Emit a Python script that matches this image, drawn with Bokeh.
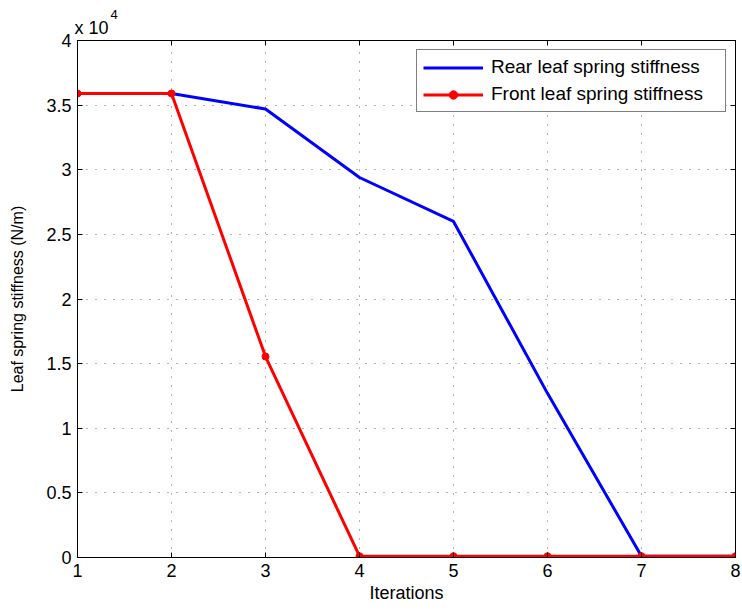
from bokeh.plotting import figure
from bokeh.models import FixedTicker, LinearAxis, Legend, LegendItem, Title, Range1d
from bokeh.embed import file_html
from bokeh.resources import INLINE

iterations = [1, 2, 3, 4, 5, 6, 7, 8]
rear_stiffness = [35900, 35900, 34700, 29400, 26000, 12700, 100, 100]
front_stiffness = [35900, 35900, 15550, 100, 100, 100, 100, 100]
x_ticks = [1, 2, 3, 4, 5, 6, 7, 8]
y_ticks = [0, 5000, 10000, 15000, 20000, 25000, 30000, 35000, 40000]
y_tick_labels = ["0", "0.5", "1", "1.5", "2", "2.5", "3", "3.5", "4"]

FONT = "Liberation Sans"
FS = "18px"

p = figure(width=742, height=612, output_backend="svg", toolbar_location=None,
           x_range=Range1d(1, 8), y_range=Range1d(0, 40000),
           min_border_left=77, min_border_right=7, min_border_top=40, min_border_bottom=55)
p.background_fill_color = "white"
p.border_fill_color = "white"
p.outline_line_color = "black"
p.outline_line_width = 1

for ax in (p.xaxis[0], p.yaxis[0]):
    ax.major_tick_in = 5
    ax.major_tick_out = 0
    ax.minor_tick_in = 0
    ax.minor_tick_out = 0
    ax.axis_line_color = "black"
    ax.major_tick_line_color = "black"
    ax.major_label_text_font = FONT
    ax.major_label_text_font_size = FS
    ax.major_label_text_color = "black"
    ax.axis_label_text_font = FONT
    ax.axis_label_text_font_size = FS
    ax.axis_label_text_font_style = "normal"
    ax.axis_label_text_color = "black"

p.yaxis[0].axis_label_text_font_size = "16px"
p.xaxis[0].ticker = FixedTicker(ticks=x_ticks)
p.yaxis[0].ticker = FixedTicker(ticks=y_ticks)
p.yaxis[0].major_label_overrides = {t: l for t, l in zip(y_ticks, y_tick_labels)}
p.xaxis[0].axis_label = "Iterations"
p.yaxis[0].axis_label = "Leaf spring stiffness (N/m)"
p.xaxis[0].major_label_standoff = 6
p.xaxis[0].axis_label_standoff = 3
p.yaxis[0].major_label_standoff = 6
p.yaxis[0].axis_label_standoff = 17

# top/right ticks (box style)
top = LinearAxis(ticker=FixedTicker(ticks=x_ticks), major_tick_in=5, major_tick_out=0,
                 minor_tick_in=0, minor_tick_out=0, major_label_text_font_size="0px",
                 major_label_overrides={t: "" for t in x_ticks}, major_label_standoff=0)
right = LinearAxis(ticker=FixedTicker(ticks=y_ticks), major_tick_in=5, major_tick_out=0,
                   minor_tick_in=0, minor_tick_out=0, major_label_text_font_size="0px",
                   major_label_overrides={t: "" for t in y_ticks}, major_label_standoff=0)
p.add_layout(top, "above")
p.add_layout(right, "right")

p.xgrid.ticker = FixedTicker(ticks=x_ticks)
p.ygrid.ticker = FixedTicker(ticks=y_ticks)
for g in (p.xgrid[0], p.ygrid[0]):
    g.grid_line_color = "black"
    g.grid_line_alpha = 0.6
    g.grid_line_dash = "1 8"
    g.grid_line_width = 1

r_rear = p.line(iterations, rear_stiffness, line_color="#0000ff", line_width=3)
r_front = p.line(iterations, front_stiffness, line_color="#ff0000", line_width=3)
r_front_pts = p.scatter(iterations, front_stiffness, marker="circle", size=7,
                        fill_color="#ff0000", line_color="#ff0000")

legend = Legend(items=[LegendItem(label="Rear leaf spring stiffness", renderers=[r_rear]),
                       LegendItem(label="Front leaf spring stiffness", renderers=[r_front, r_front_pts])],
                location="top_right")
legend.label_text_font = FONT
legend.label_text_font_size = "19px"
legend.label_text_color = "black"
legend.border_line_color = "black"
legend.border_line_width = 1
legend.background_fill_alpha = 1
legend.glyph_width = 60
legend.glyph_height = 21
legend.spacing = 5
legend.padding = 6
legend.margin = 9
legend.label_standoff = 8
legend.label_width = 228
p.add_layout(legend)

p.add_layout(Title(text="x 10", align="left", text_font=FONT, text_font_size=FS,
                   text_font_style="normal", text_color="black", offset=-3, standoff=6), "above")
p.add_layout(Title(text="4", align="left", text_font=FONT, text_font_size="13px",
                   text_font_style="normal", text_color="black", offset=33, standoff=-12), "above")

open("out.html", "w").write(file_html(p, INLINE))
